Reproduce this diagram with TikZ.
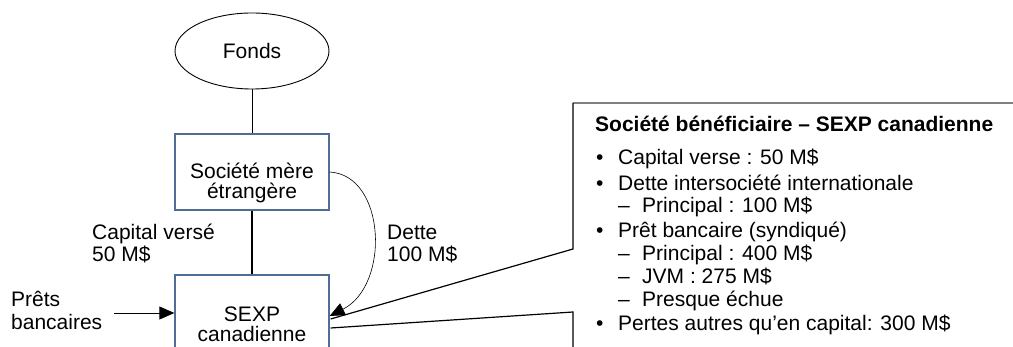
\documentclass[tikz,border=0pt]{standalone}
\usepackage{fontspec}
\setmainfont{Liberation Sans}
\usetikzlibrary{shapes.geometric,arrows.meta,calc}
\definecolor{boxblue}{RGB}{79,109,150}
\definecolor{calloutgrey}{RGB}{128,128,128}
\begin{document}
\begin{tikzpicture}[x=1pt,y=-1pt,
  font=\fontsize{21}{24}\selectfont,
  lbl/.style={inner sep=0pt, anchor=base west},
  clbl/.style={inner sep=0pt, anchor=base},
  entity/.style={draw=boxblue, line width=1.3pt, minimum width=154pt, inner sep=0pt},
  link/.style={line width=1pt},
  arr/.style={-{Triangle[length=15pt,width=13pt]}, line width=0.8pt},
  pointer/.style={line width=1.2pt}]
\clip (0,0) rectangle (1013,347);
\fill[white] (0,0) rectangle (1013,347);

% main nodes
\node[ellipse, draw, line width=0.9pt, minimum width=154pt, minimum height=76pt, inner sep=0pt] (fonds) at (252,51) {Fonds};
\node[entity, minimum height=76pt] (mere) at (252,172) {};
\node[clbl] (mere1) at (252,179) {Société mère};
\node[clbl] (mere2) at (252,199) {étrangère};
\node[entity, minimum height=82pt] (sexp) at (252,316) {};
\node[clbl] (sexp1) at (252,322) {SEXP};
\node[clbl] (sexp2) at (252,342) {canadienne};

% connectors
\draw[link] (fonds.south) -- (mere.north);
\draw[line width=2pt] (mere.south) -- (sexp.north);

% labels
\node[lbl] (cap1) at (92,240) {Capital versé};
\node[lbl] (cap2) at (92,262) {50 M\$};
\node[lbl] (dette1) at (387,240) {Dette};
\node[lbl] (dette2) at (387,262) {100 M\$};
\node[lbl] (prets1) at (11,307) {Prêts};
\node[lbl] (prets2) at (11,330) {bancaires};

\coordinate (pstart) at (114,313);
\draw[arr] (pstart) -- (sexp.west |- pstart);
\draw[arr, line width=0.6pt] (mere.east) .. controls +(56,3) and +(61,-31) .. (sexp.east);

% callout
\coordinate (ctop) at (573,103);
\coordinate (cright) at (1013,103);
\coordinate (cup) at (573,249);
\coordinate (clow) at (573,312);
\coordinate (cbot) at (573,350);
\coordinate (pa) at ($(sexp.east)+(1,3)$);
\coordinate (pb) at ($(sexp.east)+(1,12)$);
\draw[calloutgrey, line width=2pt] (ctop) -- (cright);
\draw[pointer] (ctop) -- (cup) -- (pa);
\draw[pointer] (pb) -- (clow) -- (cbot);

\node[lbl, font=\fontsize{21}{24}\selectfont\bfseries] (ctitle) at (595,132) {Société bénéficiaire – SEXP canadienne};

\node[lbl] (d1) at (596,165) {\textbullet};
\node[lbl] (i1) at (618,165) {Capital verse : 50 M\$};
\node[lbl] (d2) at (596,191) {\textbullet};
\node[lbl] (i2) at (618,191) {Dette intersociété internationale};
\node[lbl] (d3) at (618,213) {–};
\node[lbl] (i3) at (642,213) {Principal : 100 M\$};
\node[lbl] (d4) at (596,238) {\textbullet};
\node[lbl] (i4) at (618,238) {Prêt bancaire (syndiqué)};
\node[lbl] (d5) at (618,261) {–};
\node[lbl] (i5) at (642,261) {Principal : 400 M\$};
\node[lbl] (d6) at (618,284) {–};
\node[lbl] (i6) at (642,284) {JVM : 275 M\$};
\node[lbl] (d7) at (618,307) {–};
\node[lbl] (i7) at (642,307) {Presque échue};
\node[lbl] (d8) at (596,331) {\textbullet};
\node[lbl] (i8) at (618,331) {Pertes autres qu’en capital: 300 M\$};
\end{tikzpicture}
\end{document}
